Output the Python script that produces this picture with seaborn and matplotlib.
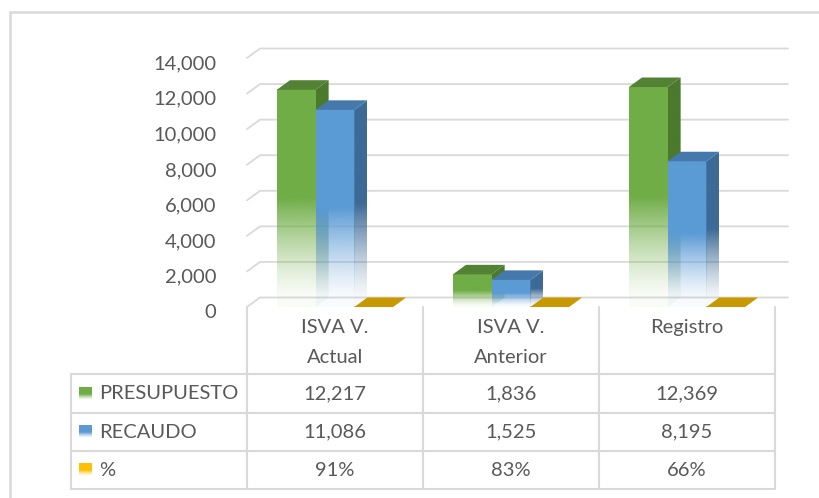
import numpy as np
import pandas as pd
import seaborn as sns
import matplotlib.pyplot as plt
import matplotlib.transforms as mtransforms
from matplotlib.patches import Polygon
from matplotlib.colors import to_rgb

# data
categorias = ["ISVA V.\nActual", "ISVA V.\nAnterior", "Registro"]
series = ["PRESUPUESTO", "RECAUDO", "%"]
presupuesto = [12217, 1836, 12369]
recaudo = [11086, 1525, 8195]
porcentaje = [91, 83, 66]

frente = ["#70AD47", "#5B9BD5", "#FFC000"]
lado = ["#4A7A2B", "#3D6A96", "#B88A00"]
tapa = ["#548235", "#4679AB", "#C89800"]
gris = "#595959"
linea = "#D9D9D9"

df = pd.DataFrame({
    "cat": categorias * 3,
    "serie": np.repeat(series, 3),
    "valor": presupuesto + recaudo + [p / 100 for p in porcentaje],
})

sns.set_style("white")
plt.rcParams["font.family"] = ["Lato", "DejaVu Sans"]
fs = 14.5

W, H = 820, 498
fig = plt.figure(figsize=(W / 100, H / 100), dpi=100)

# overlay in pixel coords for the table and the frame
tab = fig.add_axes([0, 0, 1, 1])
tab.set_zorder(0)
tab.axis("off")

x_izq, x_der = 247, 775
y_cero, y_top = 307, 58
ax = fig.add_axes([x_izq / W, 1 - y_cero / H, (x_der - x_izq) / W, (y_cero - y_top) / H])
ax.set_zorder(1)
ax.patch.set_alpha(0)

sns.barplot(data=df, x="cat", y="valor", hue="serie", hue_order=series,
            palette=frente, width=0.66, errorbar=None, legend=False, ax=ax)

ymax = 14000
dx = 13 / (x_der - x_izq) * 3
dy = 9.5 / (y_cero - y_top) * ymax


def gradiente(color, knee=0.5, n=200):
    f = np.linspace(0, 1, n)
    a = np.maximum(np.clip(f / knee, 0, 1) ** 1.4, 0.04)
    rgba = np.zeros((n, 1, 4))
    rgba[..., :3] = to_rgb(color)
    rgba[:, 0, 3] = a
    return rgba


# back wall gridlines
for t in range(0, ymax + 1, 2000):
    ax.plot([-0.5, -0.5 + dx, 2.5 + dx], [t, t + dy, t + dy], color=linea, lw=1.3,
            clip_on=False, zorder=0)

# 3d-ish bars built on the seaborn patches
for i, cont in enumerate(ax.containers):
    for bar in cont:
        x0, w, h = bar.get_x(), bar.get_width(), bar.get_height()
        bar.set_visible(False)
        x1 = x0 + w
        z = 2 + i
        ax.imshow(gradiente(frente[i]), extent=[x0, x1, 0, h], origin="lower",
                  aspect="auto", zorder=z)
        cara = Polygon([(x1, 0), (x1 + dx, dy), (x1 + dx, h + dy), (x1, h)], transform=ax.transData)
        im = ax.imshow(gradiente(lado[i]), extent=[x1, x1 + dx, 0, h + dy], origin="lower",
                       aspect="auto", zorder=z)
        im.set_clip_path(cara)
        ax.add_patch(Polygon([(x0, h), (x1, h), (x1 + dx, h + dy), (x0 + dx, h + dy)],
                             closed=True, color=tapa[i], lw=0, zorder=z))

ax.set_aspect("auto")
ax.set_xlim(-0.5, 2.5)
ax.set_ylim(0, ymax)
ticks = list(range(0, ymax + 1, 2000))
ax.set_yticks(ticks)
ax.set_yticklabels([f"{t:,}" for t in ticks], fontsize=fs, color=gris)
ax.tick_params(axis="y", length=0, pad=22)
# labels sit a few px below the front gridline in the original
bajar = mtransforms.ScaledTranslation(0, -3 / 72, fig.dpi_scale_trans)
for lbl in ax.get_yticklabels():
    lbl.set_transform(lbl.get_transform() + bajar)
ax.set_xticks([])
ax.set_xlabel("")
ax.set_ylabel("")
sns.despine(ax=ax, left=True, bottom=True)

# data table
bordes = [x_izq + k * (x_der - x_izq) / 3 for k in range(4)]
centros = [(bordes[k] + bordes[k + 1]) / 2 for k in range(3)]
filas = [374, 413, 451, 489]
x_tabla = 71
for x in bordes:
    tab.plot([x, x], [y_cero, filas[-1]], color=linea, lw=1.5)
tab.plot([x_tabla, x_tabla], [filas[0], filas[-1]], color=linea, lw=1.5)
for y in filas:
    tab.plot([x_tabla, x_der], [y, y], color=linea, lw=1.5)

# chart frame (only top and left visible)
tab.plot([10, W], [12, 12], color=linea, lw=1.8)
tab.plot([10, 10], [12, H], color=linea, lw=1.8)

for k, cat in enumerate(categorias):
    tab.text(centros[k], 319, cat, ha="center", va="top", fontsize=fs, color=gris,
             linespacing=1.95)

valores = [[f"{v:,}" for v in presupuesto], [f"{v:,}" for v in recaudo],
           [f"{p}%" for p in porcentaje]]
for r, nombre in enumerate(series):
    yc = (filas[r] + filas[r + 1]) / 2
    tab.imshow(gradiente(frente[r], knee=0.45), extent=[79, 92, yc + 6.5, yc - 6],
               origin="lower", aspect="auto")
    tab.text(99, yc, nombre, ha="left", va="center", fontsize=fs, color=gris)
    for k in range(3):
        tab.text(centros[k], yc, valores[r][k], ha="center", va="center", fontsize=fs, color=gris)

tab.set_xlim(0, W)
tab.set_ylim(H, 0)

fig.savefig("out.png", dpi=100)
